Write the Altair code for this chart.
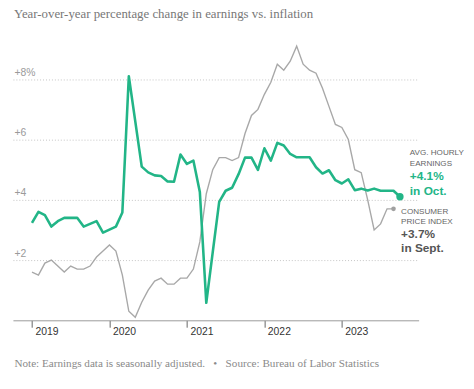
import altair as alt
import pandas as pd

# Year tick labels (first month of data = Jan 2019)
years = ["2019", "2020", "2021", "2022", "2023"]

# Avg. hourly earnings, YoY % change, Jan 2019 - Oct 2023
earnings = [
    3.23, 3.60, 3.49, 3.11, 3.29, 3.40, 3.40, 3.40, 3.11, 3.20, 3.29, 2.91,
    3.01, 3.11, 3.58, 8.10, 6.60, 5.10, 4.91, 4.81, 4.79, 4.61, 4.60, 5.50,
    5.19, 5.30, 4.26, 0.58, 2.26, 3.93, 4.30, 4.40, 4.85, 5.40, 5.40, 4.99,
    5.71, 5.30, 5.89, 5.80, 5.52, 5.41, 5.41, 5.41, 5.08, 4.87, 4.98, 4.65,
    4.54, 4.68, 4.32, 4.37, 4.31, 4.37, 4.30, 4.30, 4.30, 4.10,
]

# Consumer price index, YoY % change, Jan 2019 - Sep 2023
cpi = [
    1.6, 1.5, 1.9, 2.0, 1.8, 1.6, 1.8, 1.7, 1.7, 1.8, 2.1, 2.3,
    2.5, 2.3, 1.5, 0.3, 0.1, 0.6, 1.0, 1.3, 1.4, 1.2, 1.2, 1.4,
    1.4, 1.7, 2.6, 4.2, 5.0, 5.4, 5.4, 5.3, 5.4, 6.2, 6.8, 7.0,
    7.5, 7.9, 8.5, 8.3, 8.6, 9.1, 8.5, 8.3, 8.2, 7.7, 7.1, 6.5,
    6.4, 6.0, 5.0, 4.9, 4.0, 3.0, 3.2, 3.7, 3.7,
]

y_ticks = [2, 4, 6, 8]

title_text = "Year-over-year percentage change in earnings vs. inflation"
NB = "\u00a0"
footer_text = ("Note: Earnings data is seasonally adjusted." + NB * 3 + "\u2022" + NB * 3
               + "Source: Bureau of Labor Statistics")

GREEN = "#22b587"
GRAYLINE = "#a8a8a8"
SANS = "Liberation Sans"
SERIF = "Liberation Serif"

earn_df = pd.DataFrame({"month": list(range(len(earnings))), "value": earnings})
cpi_df = pd.DataFrame({"month": list(range(len(cpi))), "value": cpi})
earn_end = earn_df.tail(1)
cpi_end = cpi_df.tail(1)

year_expr = "[" + ",".join("'" + y + "'" for y in years) + "][floor(datum.value / 12)]"

xscale = alt.Scale(domain=[-2.95, 59.89], nice=False, zero=False)
yscale = alt.Scale(domain=[0, 9.5], nice=False, zero=True)

xaxis = alt.Axis(
    values=[0, 12, 24, 36, 48],
    labelExpr=year_expr,
    grid=False,
    tickSize=7,
    tickColor="#666666",
    tickWidth=1,
    domainColor="#9a9a9a",
    domainWidth=1,
    labelAlign="left",
    labelOffset=3,
    labelBaseline="top",
    labelPadding=-0.5,
    labelFont=SANS,
    labelFontSize=10.5,
    labelColor="#333333",
    title=footer_text,
    titleX=1,
    titleY=44,
    titleAlign="left",
    titleAnchor="start",
    titleBaseline="middle",
    titleFont=SERIF,
    titleFontSize=11.3,
    titleFontWeight="normal",
    titleColor="#8a8a8a",
    titleLimit=460,
)

yaxis = alt.Axis(
    values=y_ticks,
    labelExpr="datum.value == 8 ? '+8%' : '+' + datum.value",
    grid=True,
    gridColor="#c4c4c4",
    gridDash=[1, 2],
    gridWidth=1,
    domain=False,
    ticks=False,
    labelAlign="left",
    labelPadding=-1,
    labelBaseline="alphabetic",
    labelOffset=-4,
    labelFont=SANS,
    labelFontSize=10.5,
    labelColor="#9a9a9a",
    title=None,
)

X = alt.X("month:Q", scale=xscale, axis=xaxis)
Y = alt.Y("value:Q", scale=yscale, axis=yaxis)

cpi_line = alt.Chart(cpi_df).mark_line(color=GRAYLINE, strokeWidth=1.4).encode(x=X, y=Y)
earn_line = alt.Chart(earn_df).mark_line(color=GREEN, strokeWidth=2.6, strokeJoin="round").encode(x=X, y=Y)

cpi_dot = alt.Chart(cpi_end).mark_circle(color="#a0a0a0", size=22, opacity=1).encode(x=X, y=Y)
earn_dot = alt.Chart(earn_end).mark_circle(color=GREEN, size=55, opacity=1).encode(x=X, y=Y)


def label(df, text, dx, dy, size, color, weight="normal"):
    return alt.Chart(df).mark_text(
        text=text, align="left", baseline="middle", dx=dx, dy=dy,
        font=SANS, fontSize=size, color=color, fontWeight=weight,
    ).encode(x=X, y=Y)


texts = [
    label(earn_end, "AVG. HOURLY", 10, -44, 8.2, "#666666"),
    label(earn_end, "EARNINGS", 10, -33.5, 8.2, "#666666"),
    label(earn_end, "+4.1%", 10, -21, 12, GREEN, "bold"),
    label(earn_end, "in Oct.", 10, -6, 12, GREEN, "bold"),
    label(cpi_end, "CONSUMER", 7.7, 3, 8.2, "#666666"),
    label(cpi_end, "PRICE INDEX", 7.7, 13.3, 8.2, "#666666"),
    label(cpi_end, "+3.7%", 7.7, 26, 12, "#555555", "bold"),
    label(cpi_end, "in Sept.", 7.7, 40.2, 12, "#555555", "bold"),
]

chart = alt.layer(cpi_line, earn_line, cpi_dot, earn_dot, *texts).properties(
    width=411,
    height=290,
    autosize=alt.AutoSizeParams(type="none"),
    padding={"left": 5, "top": 24, "right": 48, "bottom": 52},
    title=alt.TitleParams(
        text=title_text,
        anchor="start",
        frame="group",
        offset=13,
        dx=1,
        font=SERIF,
        fontSize=13,
        fontWeight="normal",
        color="#777777",
    ),
).configure_view(stroke=None)

chart.save("out.html", embed_options={"renderer": "svg", "actions": False})
